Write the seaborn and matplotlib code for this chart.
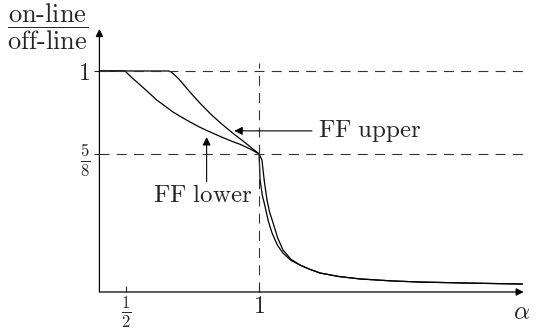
import matplotlib
matplotlib.use("Agg")
import matplotlib.pyplot as plt
import seaborn as sns
import pandas as pd

# ---- data ----
alpha_upper = [0.40, 0.658, 0.668, 0.68, 0.70, 0.74, 0.78, 0.82, 0.86, 0.90, 0.94, 0.97, 1.0,
               1.006, 1.011, 1.020, 1.030, 1.040, 1.053, 1.070, 1.090, 1.12, 1.154,
               1.19, 1.229, 1.30, 1.380, 1.50, 1.605, 1.80, 1.99]
ratio_upper = [1.0, 1.0, 0.997, 0.985, 0.962, 0.905, 0.852, 0.803, 0.760, 0.720, 0.683, 0.654, 0.625,
               0.610, 0.597, 0.500, 0.416, 0.360, 0.312, 0.245, 0.190, 0.148, 0.122,
               0.103, 0.086, 0.070, 0.059, 0.050, 0.045, 0.040, 0.036]

alpha_lower = [0.40, 0.496, 0.52, 0.553, 0.58, 0.615, 0.65, 0.677, 0.71, 0.741, 0.77, 0.803,
               0.835, 0.865, 0.90, 0.929, 0.965, 1.0,
               1.002, 1.004, 1.012, 1.023, 1.035, 1.049, 1.070, 1.090, 1.12, 1.154,
               1.19, 1.229, 1.30, 1.380, 1.50, 1.605, 1.80, 1.99]
ratio_lower = [1.0, 1.0, 0.972, 0.937, 0.908, 0.869, 0.838, 0.814, 0.790, 0.769, 0.750, 0.731,
               0.714, 0.698, 0.681, 0.668, 0.648, 0.625,
               0.570, 0.507, 0.440, 0.385, 0.320, 0.267, 0.210, 0.176, 0.143, 0.122,
               0.103, 0.086, 0.070, 0.059, 0.050, 0.045, 0.040, 0.036]

y_ticks = [0.625, 1.0]
y_ticklabels = [r"$\frac{5}{8}$", r"$1$"]
x_ticks = [0.5, 1.0]
x_ticklabels = [r"$\frac{1}{2}$", r"$1$"]

sns.set_style("white")
plt.rcParams["mathtext.fontset"] = "cm"
plt.rcParams["font.family"] = ["DejaVu Serif"]

fig = plt.figure(figsize=(5.38, 3.29), dpi=100)
ax = fig.add_axes([0.1848, 0.1125, 0.7911, 0.8061])
ax.set_xlim(0.40, 2.0)
ax.set_ylim(0.0, 1.2)
for s in ax.spines.values():
    s.set_visible(False)

df_u = pd.DataFrame({"alpha": alpha_upper, "ratio": ratio_upper})
df_l = pd.DataFrame({"alpha": alpha_lower, "ratio": ratio_lower})
sns.lineplot(data=df_u, x="alpha", y="ratio", ax=ax, color="black", lw=0.9,
             estimator=None, sort=False)
sns.lineplot(data=df_l, x="alpha", y="ratio", ax=ax, color="black", lw=0.9,
             estimator=None, sort=False)

# dashed guides
dash = (0, (9, 6.5))
for yv in y_ticks:
    ax.plot([0.40, 2.01], [yv, yv], color="#333333", lw=0.8, ls=dash, clip_on=False)
ax.plot([1.0, 1.0], [0.0, 1.035], color="#333333", lw=0.8, ls=dash, clip_on=False)

# axis arrows
ap = dict(arrowstyle="-|>", lw=0.9, color="black", mutation_scale=11,
          shrinkA=0, shrinkB=0)
ax.annotate("", xy=(1.995, 0.0), xytext=(0.40, 0.0), arrowprops=ap,
            annotation_clip=False)
ax.annotate("", xy=(0.40, 1.19), xytext=(0.40, 0.0), arrowprops=ap,
            annotation_clip=False)

# ticks
ax.set_yticks(y_ticks)
ax.set_yticklabels(y_ticklabels)
ax.set_xticks(x_ticks)
ax.set_xticklabels(x_ticklabels)
ax.tick_params(axis="y", direction="out", length=3.5, width=0.8, pad=3,
               labelsize=17, left=True)
ax.tick_params(axis="x", direction="in", length=4, width=0.8, pad=2,
               labelsize=17, bottom=True)
ax.set_xlabel("")
ax.set_ylabel("")

# labels
fig.text(48 / 538, 1 - 27 / 329, r"$\dfrac{\text{on-line}}{\text{off-line}}$",
         ha="center", va="center", fontsize=19)
ax.text(1.985, -0.04, r"$\alpha$", ha="center", va="top", fontsize=18)

# annotations
ap2 = dict(arrowstyle="-|>", lw=0.8, color="black", mutation_scale=12,
           shrinkA=0, shrinkB=0)
ax.annotate("", xy=(0.907, 0.729), xytext=(1.199, 0.729), arrowprops=ap2)
ax.text(1.222, 0.701, r"$\mathrm{FF\ upper}$", ha="left", va="baseline", fontsize=18)
ax.annotate("", xy=(0.803, 0.701), xytext=(0.803, 0.499), arrowprops=ap2)
ax.text(0.6015, 0.409, r"$\mathrm{FF\ lower}$", ha="left", va="baseline", fontsize=18)

fig.savefig("out.png", dpi=100)
